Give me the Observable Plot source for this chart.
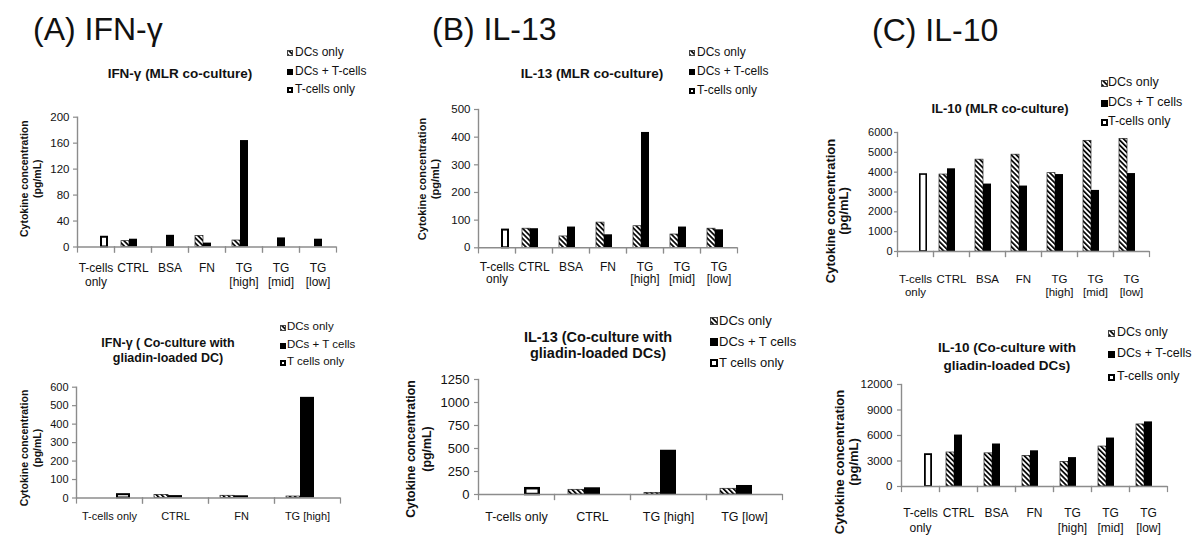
<!DOCTYPE html>
<html><head><meta charset="utf-8">
<script src="https://cdn.jsdelivr.net/npm/d3@7"></script>
<script src="https://cdn.jsdelivr.net/npm/@observablehq/plot@0.6"></script>
<style>
html,body{margin:0;padding:0;background:#fff;}
#root{position:relative;width:1200px;height:553px;overflow:hidden;font-family:"Liberation Sans",Arial,sans-serif;color:#111;}
.abs{position:absolute;white-space:nowrap;}
.sub{font-weight:bold;text-align:center;}
.ylab{font-weight:bold;text-align:center;transform:rotate(-90deg);}
</style></head><body>
<svg width="0" height="0" style="position:absolute">
  <defs>
    <pattern id="hatch" width="3.6" height="3.6" patternUnits="userSpaceOnUse" patternTransform="rotate(-45)">
      <rect width="3.6" height="3.6" fill="#fff"/>
      <rect width="1.7" height="3.6" fill="#000"/>
    </pattern>
  </defs>
</svg>
<div id="root"></div>
<script>
const FONT = '"Liberation Sans", Arial, sans-serif';
const GRAY = "#8c8c8c";

// ---- categories & series ----
const seriesNames = ["DCs only", "DCs + T-cells", "T-cells only"];
const catsMLR = ["T-cells only", "CTRL", "BSA", "FN", "TG [high]", "TG [mid]", "TG [low]"];
const catsIfnGliadin = ["T-cells only", "CTRL", "FN", "TG [high]"];
const catsIl13Gliadin = ["T-cells only", "CTRL", "TG [high]", "TG [low]"];
const catsIl10Gliadin = ["T-cells only", "CTRL", "BSA", "FN", "TG [high]", "TG [mid]", "TG [low]"];

// ---- (A) IFN-γ, MLR co-culture ----
const ifnMlrDC   = [null, 9, null, 17, 10, null, null];
const ifnMlrDCT  = [null, 12, 18, 6, 164, 14, 12];
const ifnMlrT    = [15, null, null, null, null, null, null];
// ---- (A) IFN-γ, gliadin-loaded DC ----
const ifnGlDC  = [null, 17, 12, 8];
const ifnGlDCT = [null, 13, 12, 545];
const ifnGlT   = [18, null, null, null];
// ---- (B) IL-13, MLR co-culture ----
const il13MlrDC  = [null, 69, 41, 91, 78, 48, 69];
const il13MlrDCT = [null, 69, 75, 47, 417, 75, 65];
const il13MlrT   = [64, null, null, null, null, null, null];
// ---- (B) IL-13, gliadin-loaded DCs ----
const il13GlDC  = [null, 51, 18, 62];
const il13GlDCT = [null, 73, 481, 98];
const il13GlT   = [63, null, null, null];
// ---- (C) IL-10, MLR co-culture ----
const il10MlrDC  = [null, 3880, 4630, 4880, 3950, 5580, 5680];
const il10MlrDCT = [null, 4170, 3400, 3300, 3880, 3080, 3930];
const il10MlrT   = [3880, null, null, null, null, null, null];
// ---- (C) IL-10, gliadin-loaded DCs ----
const il10GlDC  = [null, 4000, 3900, 3600, 2900, 4700, 7300];
const il10GlDCT = [null, 6050, 5000, 4200, 3400, 5700, 7600];
const il10GlT   = [3750, null, null, null, null, null, null];

// ---- tick values ----
const ticksIfnMlr = [0, 40, 80, 120, 160, 200];
const ticksIfnGl = [0, 100, 200, 300, 400, 500, 600];
const ticksIl13Mlr = [0, 100, 200, 300, 400, 500];
const ticksIl13Gl = [0, 250, 500, 750, 1000, 1250];
const ticksIl10Mlr = [0, 1000, 2000, 3000, 4000, 5000, 6000];
const ticksIl10Gl = [0, 3000, 6000, 9000, 12000];

// ---- texts ----
const legendHyphen = ["DCs only", "DCs + T-cells", "T-cells only"];
const legendSpace = ["DCs only", "DCs + T cells", "T cells only"];
const legendC1 = ["DCs only", "DCs + T cells", "T-cells only"];

const root = document.getElementById("root");

function buildRows(cats, dc, dct, t) {
  const out = [];
  cats.forEach((c, i) => {
    [[seriesNames[0], dc], [seriesNames[1], dct], [seriesNames[2], t]].forEach(([s, arr]) => {
      if (arr[i] != null) out.push({cat: c, series: s, value: arr[i]});
    });
  });
  return out;
}

function addDiv(cls, style, html) {
  const d = document.createElement("div");
  d.className = "abs " + cls;
  Object.assign(d.style, style);
  d.innerHTML = html;
  root.appendChild(d);
  return d;
}

function panel(cfg) {
  const data = buildRows(cfg.cats, cfg.dc, cfg.dct, cfg.t);
  const plotH = cfg.height - cfg.mT - cfg.mB;
  const fmt = cfg.wrap ? (d => d.replace(" ", "\n")) : (d => d);
  const chart = Plot.plot({
    width: cfg.width, height: cfg.height,
    marginLeft: cfg.mL, marginRight: cfg.mR, marginTop: cfg.mT, marginBottom: cfg.mB,
    style: {fontFamily: FONT, fontSize: cfg.yFont + "px", color: "#111", background: "transparent", overflow: "visible"},
    fx: {domain: cfg.cats, padding: 0, label: null},
    x: {domain: seriesNames, paddingInner: 0, paddingOuter: 0.75, axis: null},
    y: {domain: [0, cfg.ymax], label: null},
    marks: [
      Plot.barY(data.filter(d => d.series === seriesNames[0]), {fx: "cat", x: "series", y: "value", fill: "url(#hatch)", stroke: "#222", strokeWidth: 0.7}),
      Plot.barY(data.filter(d => d.series === seriesNames[1]), {fx: "cat", x: "series", y: "value", fill: "#000"}),
      Plot.barY(data.filter(d => d.series === seriesNames[2]), {fx: "cat", x: "series", y: "value", fill: "#fff", stroke: "#000", strokeWidth: cfg.tw, insetLeft: cfg.tw / 2, insetRight: cfg.tw / 2}),
      Plot.ruleY([0], {stroke: GRAY, strokeWidth: 1.4}),
      Plot.frame({anchor: "left", stroke: GRAY, strokeWidth: 1.4, facetAnchor: "left"}),
      Plot.frame({anchor: "left", stroke: GRAY, strokeWidth: 1.2, insetTop: plotH, insetBottom: -cfg.tick}),
      Plot.frame({anchor: "right", stroke: GRAY, strokeWidth: 1.2, insetTop: plotH, insetBottom: -cfg.tick}),
      Plot.axisY({ticks: cfg.yticks, tickSize: cfg.ts, tickPadding: cfg.tp, stroke: GRAY, strokeWidth: 1.2, fontSize: cfg.yFont, label: null, tickFormat: d3.format("d")}),
      Plot.axisFx({anchor: "bottom", tickSize: 0, tickPadding: cfg.fxPad, fontSize: cfg.fxFont, lineHeight: cfg.lh, tickFormat: fmt, label: null})
    ]
  });
  const wrap = document.createElement("div");
  wrap.className = "abs";
  wrap.style.left = cfg.left + "px";
  wrap.style.top = cfg.top + "px";
  wrap.appendChild(chart);
  root.appendChild(wrap);

  // subtitle
  addDiv("sub", {
    left: (cfg.subX - 150) + "px", width: "300px",
    top: (cfg.subY - cfg.subFont / 2) + "px",
    fontSize: cfg.subFont + "px", lineHeight: cfg.subLh + "px"
  }, cfg.sub.join("<br>"));

  // y label
  const w = 200, h = cfg.ylLh * 2;
  addDiv("ylab", {
    left: (cfg.ylX - w / 2) + "px", top: (cfg.ylY - h / 2) + "px",
    width: w + "px", height: h + "px",
    fontSize: cfg.ylFont + "px", lineHeight: cfg.ylLh + "px"
  }, "Cytokine concentration<br>(pg/mL)");

  // legend
  const sw = cfg.sw;
  const swatches = [
    `<svg width="${sw}" height="${sw}" style="display:block"><rect x="0.5" y="0.5" width="${sw - 1}" height="${sw - 1}" fill="url(#hatch)" stroke="#444" stroke-width="1"/></svg>`,
    `<svg width="${sw}" height="${sw}" style="display:block"><rect width="${sw}" height="${sw}" fill="#000"/></svg>`,
    `<svg width="${sw}" height="${sw}" style="display:block"><rect x="1" y="1" width="${sw - 2}" height="${sw - 2}" fill="#fff" stroke="#000" stroke-width="2"/></svg>`
  ];
  cfg.legend.forEach((txt, i) => {
    const y = cfg.legY[i];
    addDiv("", {left: cfg.swX + "px", top: (y - sw / 2) + "px"}, swatches[i]);
    addDiv("", {left: cfg.legTX + "px", top: (y - cfg.legFont / 2 - 1) + "px", fontSize: cfg.legFont + "px", lineHeight: cfg.legFont + "px"}, txt);
  });
}

// titles
addDiv("", {left: "33px", top: "13px", fontSize: "32px", lineHeight: "32px"}, "(A) IFN-γ");
addDiv("", {left: "432px", top: "13px", fontSize: "32px", lineHeight: "32px"}, "(B) IL-13");
addDiv("", {left: "872px", top: "14px", fontSize: "32px", lineHeight: "32px"}, "(C) IL-10");

// A top
panel({cats: catsMLR, dc: ifnMlrDC, dct: ifnMlrDCT, t: ifnMlrT, ymax: 200, yticks: ticksIfnMlr,
  left: 0, top: 100, width: 350, height: 200, mL: 76, mR: 13, mT: 16.7, mB: 53.5,
  yFont: 11.5, ts: 4, tp: 4, fxFont: 12, fxPad: 16, lh: 1.1, wrap: true, tw: 2, tick: 5,
  sub: ["IFN-γ (MLR co-culture)"], subX: 180, subY: 73, subFont: 13.5, subLh: 15,
  ylX: 30.5, ylY: 178.5, ylFont: 10.5, ylLh: 12.7,
  legend: legendHyphen, legY: [53, 72, 90], swX: 287, legTX: 295, legFont: 12, sw: 6});

// A bottom
panel({cats: catsIfnGliadin, dc: ifnGlDC, dct: ifnGlDCT, t: ifnGlT, ymax: 600, yticks: ticksIfnGl,
  left: 0, top: 370, width: 350, height: 170, mL: 76, mR: 10, mT: 16.7, mB: 42.5,
  yFont: 11, ts: 4, tp: 4, fxFont: 11, fxPad: 13.5, lh: 1.1, wrap: false, tw: 2, tick: 5,
  sub: ["IFN-γ ( Co-culture with", "gliadin-loaded DC)"], subX: 168, subY: 342, subFont: 12.5, subLh: 15,
  ylX: 31, ylY: 447.5, ylFont: 10.5, ylLh: 13,
  legend: legendSpace, legY: [328, 346, 363], swX: 280, legTX: 287, legFont: 11.5, sw: 6});

// B top
panel({cats: catsMLR, dc: il13MlrDC, dct: il13MlrDCT, t: il13MlrT, ymax: 500, yticks: ticksIl13Mlr,
  left: 400, top: 90, width: 350, height: 210, mL: 76, mR: 12, mT: 19, mB: 52.7,
  yFont: 11.5, ts: 4, tp: 4, fxFont: 12, fxPad: 13.5, lh: 1.08, wrap: true, tw: 2, tick: 5,
  sub: ["IL-13 (MLR co-culture)"], subX: 592, subY: 73, subFont: 13.5, subLh: 15,
  ylX: 428.5, ylY: 178.5, ylFont: 11, ylLh: 13,
  legend: legendHyphen, legY: [53, 72, 91], swX: 689, legTX: 697, legFont: 12, sw: 6});

// B bottom
panel({cats: catsIl13Gliadin, dc: il13GlDC, dct: il13GlDCT, t: il13GlT, ymax: 1250, yticks: ticksIl13Gl,
  left: 400, top: 360, width: 400, height: 175, mL: 77, mR: 17, mT: 19, mB: 41,
  yFont: 13, ts: 4, tp: 5, fxFont: 12.5, fxPad: 16.5, lh: 1.1, wrap: false, tw: 2.5, tick: 5,
  sub: ["IL-13 (Co-culture with", "gliadin-loaded DCs)"], subX: 598, subY: 336, subFont: 14.5, subLh: 16,
  ylX: 419, ylY: 449, ylFont: 12.4, ylLh: 16,
  legend: legendSpace, legY: [321, 342, 363], swX: 710, legTX: 719, legFont: 13, sw: 8});

// C top
panel({cats: catsMLR, dc: il10MlrDC, dct: il10MlrDCT, t: il10MlrT, ymax: 6000, yticks: ticksIl10Mlr,
  left: 800, top: 115, width: 360, height: 185, mL: 96, mR: 10, mT: 17, mB: 49,
  yFont: 11, ts: 3, tp: 2, fxFont: 11.5, fxPad: 22, lh: 1.13, wrap: true, tw: 1.6, tick: 5,
  sub: ["IL-10 (MLR co-culture)"], subX: 1000, subY: 107, subFont: 13, subLh: 15,
  ylX: 836.5, ylY: 211, ylFont: 13, ylLh: 13,
  legend: legendC1, legY: [83, 103, 122], swX: 1101, legTX: 1108, legFont: 12.5, sw: 7});

// C bottom
panel({cats: catsIl10Gliadin, dc: il10GlDC, dct: il10GlDCT, t: il10GlT, ymax: 12000, yticks: ticksIl10Gl,
  left: 800, top: 365, width: 390, height: 188, mL: 98, mR: 21, mT: 19, mB: 67,
  yFont: 11.5, ts: 4, tp: 5, fxFont: 12, fxPad: 18.7, lh: 1.33, wrap: true, tw: 1.8, tick: 5,
  sub: ["IL-10 (Co-culture with", "gliadin-loaded DCs)"], subX: 1007, subY: 346, subFont: 13.5, subLh: 18,
  ylX: 846.5, ylY: 462, ylFont: 13, ylLh: 14,
  legend: legendHyphen, legY: [333, 354, 377], swX: 1108, legTX: 1117, legFont: 12.5, sw: 7});
</script>
</body></html>
